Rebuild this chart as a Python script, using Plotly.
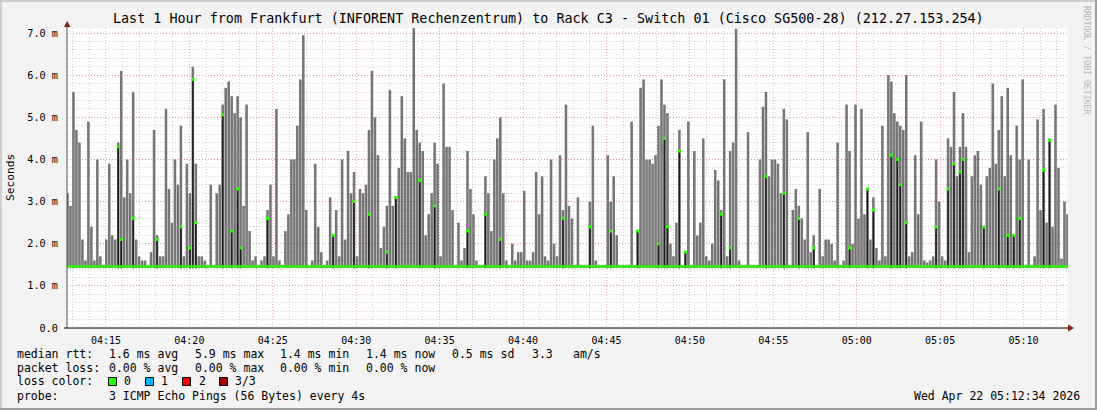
import datetime as dt
import plotly.graph_objects as go

# ---------------- data ----------------
TITLE = ("Last 1 Hour from Frankfurt (INFORENT Rechenzentrum) to Rack C3 - "
         "Switch 01 (Cisco SG500-28) (212.27.153.254)")
START = dt.datetime(2026, 4, 22, 4, 12, 40)
END = dt.datetime(2026, 4, 22, 5, 12, 40)
SLOT_SECONDS = 10.735          # spacing of the smoke samples
FIRST_SLOT_SECONDS = 1.77      # centre of the first sample after START
MIN_RTT_MS = 1.42              # bottom of the smoke
MEDIAN_BASE_MS = 1.46          # typical median rtt

# max rtt per sample (ms), left to right
max_ms_part1 = [3.2, 2.9, 5.6, 4.7, 4.4, 2.1, 1.6, 4.9, 2.4, 1.6,
                4.0, 1.7, 1.5, 2.1, 3.9, 2.2, 2.1, 4.4, 6.1, 3.1,
                4.0, 3.2, 5.6, 2.1, 1.7, 1.6, 1.6, 1.5, 1.8, 4.7,
                2.2, 1.7, 1.7, 5.2, 3.3, 2.5, 4.0, 3.4, 4.8, 1.7,
                3.9, 3.2, 6.2, 3.9, 1.7, 1.7, 1.6, 1.5, 3.4, 1.5,
                3.2, 3.4, 5.3, 5.7, 5.85, 5.5, 5.1, 5.5, 5.0, 2.9,
                5.3, 2.3, 1.6, 1.7, 1.5, 1.6, 1.7]
max_ms_part2 = [2.8, 3.4, 1.7, 5.2, 1.6, 1.5, 2.3, 2.7, 4.0, 4.0,
                4.8, 5.9, 6.95, 2.8, 1.5, 1.6, 3.9, 2.4, 1.8, 1.5,
                1.6, 3.1, 2.2, 2.8, 1.7, 4.0, 2.1, 4.2, 3.2, 3.7,
                1.7, 3.3, 3.2, 3.4, 4.7, 6.1, 5.0, 4.1, 1.9, 2.4,
                2.9, 5.65, 2.9, 3.1, 3.8, 5.5, 4.5, 3.7, 3.7, 7.15,
                4.7, 4.4, 4.2, 2.2, 2.7, 3.2, 4.4, 3.9, 1.7, 5.8,
                4.3, 4.3, 2.8, 1.5, 2.5, 1.6, 1.9]
max_ms_part3 = [4.2, 3.3, 2.7, 1.6, 1.5, 1.5, 3.6, 3.2, 2.3, 4.0,
                4.5, 5.0, 3.2, 1.6, 1.5, 2.0, 1.6, 1.8, 1.8, 3.25,
                1.6, 1.6, 1.8, 3.7, 2.7, 3.6, 1.7, 1.6, 4.0, 2.0,
                1.7, 4.1, 2.8, 5.3, 2.9, 2.6, 1.5, 3.1, 1.5, 1.5,
                1.5, 3.0, 4.8, 1.6, 1.5, 1.5, 1.5, 4.1, 3.0, 3.6,
                2.2, 1.5, 1.5, 1.5, 1.5, 4.9, 1.5, 2.3, 5.7, 5.9,
                4.0, 4.0, 3.9, 4.1, 4.8, 5.9, 5.3]
max_ms_part4 = [5.1, 2.0, 1.7, 2.5, 4.7, 1.5, 1.8, 4.9, 1.5, 4.2,
                2.2, 2.5, 4.5, 1.7, 1.6, 2.0, 3.75, 3.5, 2.8, 5.9,
                1.7, 4.2, 4.4, 7.1, 1.6, 1.5, 1.5, 4.65, 1.5, 1.5,
                1.5, 4.0, 5.25, 5.6, 3.6, 4.0, 4.0, 3.9, 3.2, 5.2,
                4.95, 1.5, 2.8, 3.3, 2.9, 2.6, 2.1, 4.65, 1.8, 2.2,
                1.5, 3.3, 1.7, 2.1, 2.1, 2.0, 1.6, 4.4, 1.5, 1.6,
                5.3, 4.2, 2.0, 5.3, 2.6, 5.2, 2.7]
max_ms_part5 = [3.3, 2.1, 3.1, 1.9, 1.6, 4.8, 1.7, 6.0, 5.85, 5.1,
                4.9, 4.8, 4.7, 6.0, 1.7, 1.8, 4.1, 2.7, 4.9, 1.6,
                1.55, 1.6, 1.7, 4.0, 3.0, 1.7, 1.6, 4.5, 4.3, 5.6,
                3.6, 4.3, 5.1, 4.3, 1.8, 3.6, 4.1, 4.2, 3.4, 2.4,
                3.6, 3.8, 5.8, 3.9, 4.7, 5.5, 3.6, 5.7, 4.1, 2.2,
                4.8, 4.0, 5.9, 1.5, 4.0, 1.5, 1.7, 4.95, 2.8, 5.2,
                2.5, 4.5, 2.4, 5.3, 3.8, 1.65, 3.0, 2.7]

# samples whose median rtt is clearly above the baseline
median_slot = [17, 18, 22, 30, 38, 41, 42, 43, 52, 55, 57, 58,
               67, 89, 96, 101, 107, 110, 118, 123,
               134, 140, 145, 166, 175, 182, 191, 198, 200,
               201, 205, 207, 219, 222, 234, 240, 245, 250, 262,
               268, 270, 276, 278, 279, 281, 291, 295, 297, 299, 300,
               307, 312, 315, 317, 319, 327, 329]
median_ms = [4.3, 2.1, 2.6, 2.1, 2.4, 1.9, 5.9, 2.5, 5.06, 2.3, 3.3, 1.9,
             2.6, 2.2, 3.0, 2.7, 1.8, 3.1, 3.5, 2.9,
             2.3, 2.7, 2.1, 2.6, 2.4, 2.3, 2.3, 2.0, 4.5,
             2.4, 4.2, 1.8, 2.7, 1.9, 3.6, 3.2, 2.6, 1.9, 1.9,
             3.3, 2.8, 4.1, 4.0, 3.4, 2.5, 2.4, 3.3, 3.9, 3.7, 4.0,
             2.4, 3.3, 2.2, 2.2, 2.6, 3.75, 4.45]

y_tick_values = [0, 1, 2, 3, 4, 5, 6, 7]
y_tick_labels = ["0.0", "1.0 m", "2.0 m", "3.0 m", "4.0 m", "5.0 m", "6.0 m", "7.0 m"]

legend_rtt = [("median rtt:", 16), ("1.6 ms avg", 108), ("5.9 ms max", 193.5),
              ("1.4 ms min", 278.5), ("1.4 ms now", 364.5), ("0.5 ms sd", 450.5),
              ("3.3", 530.5), ("am/s", 571.5)]
legend_loss = [("packet loss:", 16), ("0.00 % avg", 108), ("0.00 % max", 193.5),
               ("0.00 % min", 278.5), ("0.00 % now", 364.5)]
loss_labels = ["0", "1", "2", "3/3"]
loss_label_x = [122.5, 160, 197.5, 234]
loss_box_x = [108.5, 145.5, 182.5, 219.5]
loss_colors = ["#26ff00", "#00b8ff", "#ff0000", "#a10000"]
PROBE_TEXT = "3 ICMP Echo Pings (56 Bytes) every 4s"
STAMP_TEXT = "Wed Apr 22 05:12:34 2026"

# ---------------- geometry helpers ----------------
W, H = 1097, 410
L, R, T, B = 67, 29, 28, 82
PW, PH = W - L - R, H - T - B
FONT = "DejaVu Sans Mono"
LEG = 11.5


def px(x):
    return (x - L) / PW


def py(y):
    return (H - B - y) / PH


max_ms = max_ms_part1 + max_ms_part2 + max_ms_part3 + max_ms_part4 + max_ms_part5
slot_times = [START + dt.timedelta(seconds=FIRST_SLOT_SECONDS + SLOT_SECONDS * i)
              for i in range(len(max_ms))]

fig = go.Figure()
fig.add_trace(go.Bar(
    x=slot_times, y=[m - MIN_RTT_MS for m in max_ms], base=MIN_RTT_MS,
    width=SLOT_SECONDS * 860, marker=dict(color="#767676", line=dict(width=0)),
    hoverinfo="skip"))
fig.add_trace(go.Bar(
    x=[slot_times[i] for i in median_slot], y=[m - MIN_RTT_MS for m in median_ms],
    base=MIN_RTT_MS, width=5500, marker=dict(color="#1c1c1c", line=dict(width=0)),
    hoverinfo="skip"))
fig.add_trace(go.Scatter(
    x=[START, END], y=[MEDIAN_BASE_MS, MEDIAN_BASE_MS], mode="lines",
    line=dict(color="#26ff00", width=2.4), hoverinfo="skip"))
fig.add_trace(go.Scatter(
    x=[slot_times[i] for i in median_slot], y=median_ms, mode="markers",
    marker=dict(symbol="square", size=3, color="#26ff00", line=dict(width=0)),
    hoverinfo="skip"))

grid_major = "rgba(225,80,80,0.45)"
grid_minor = "rgba(150,150,150,0.45)"

fig.update_layout(
    width=W, height=H, margin=dict(l=L, r=R, t=T, b=B),
    paper_bgcolor="#f3f3f3", plot_bgcolor="#ffffff",
    barmode="overlay", showlegend=False,
    font=dict(family=FONT, size=10, color="#000000"),
    xaxis=dict(
        type="date", range=[START, END], tickformat="%H:%M",
        tick0="2026-04-22 04:15:00", dtick=300000,
        showgrid=True, gridcolor=grid_major, griddash="1px,2px", gridwidth=1,
        minor=dict(tick0="2026-04-22 04:15:00", dtick=60000, showgrid=True,
                   gridcolor=grid_minor, griddash="1px,2px", gridwidth=1),
        showline=False, zeroline=False, ticks="outside", ticklen=3,
        tickcolor="rgba(0,0,0,0)", tickfont=dict(family=FONT, size=10),
        fixedrange=True),
    yaxis=dict(
        range=[0, PH / 42.14], tickvals=y_tick_values, ticktext=y_tick_labels,
        showgrid=True, gridcolor=grid_major, griddash="1px,2px", gridwidth=1,
        minor=dict(dtick=0.2, tick0=0, showgrid=True, gridcolor=grid_minor,
                   griddash="1px,2px", gridwidth=1),
        showline=False, zeroline=False, ticks="outside", ticklen=6,
        tickcolor="rgba(0,0,0,0)", tickfont=dict(family=FONT, size=10.2),
        fixedrange=True),
)

shapes = []
# axes with arrows
shapes.append(dict(type="line", xref="paper", yref="paper", x0=px(67), x1=px(67),
                   y0=0, y1=py(24), line=dict(color="#505050", width=1)))
shapes.append(dict(type="line", xref="paper", yref="paper", x0=px(64), x1=px(1070),
                   y0=0, y1=0, line=dict(color="#000000", width=1)))
shapes.append(dict(type="path", xref="paper", yref="paper",
                   path=f"M {px(64)} {py(27)} L {px(70.5)} {py(27)} L {px(67.2)} {py(21)} Z",
                   fillcolor="#7f1f1f", line=dict(width=0)))
shapes.append(dict(type="path", xref="paper", yref="paper",
                   path=f"M {px(1068)} {py(324.5)} L {px(1068)} {py(331.5)} L {px(1074)} {py(328)} Z",
                   fillcolor="#7f1f1f", line=dict(width=0)))
# canvas frame
shapes.append(dict(type="line", xref="paper", yref="paper", x0=px(1), x1=px(1),
                   y0=py(0), y1=py(410), line=dict(color="#cfcfcf", width=2)))
shapes.append(dict(type="line", xref="paper", yref="paper", x0=px(0), x1=px(1097),
                   y0=py(1), y1=py(1), line=dict(color="#cfcfcf", width=2)))
shapes.append(dict(type="line", xref="paper", yref="paper", x0=px(1096), x1=px(1096),
                   y0=py(0), y1=py(410), line=dict(color="#9e9e9e", width=2)))
shapes.append(dict(type="line", xref="paper", yref="paper", x0=px(0), x1=px(1097),
                   y0=py(409), y1=py(409), line=dict(color="#9e9e9e", width=2)))
# loss colour boxes
for bx, col in zip(loss_box_x, loss_colors):
    shapes.append(dict(type="rect", xref="paper", yref="paper",
                       x0=px(bx), x1=px(bx + 8), y0=py(385.5), y1=py(377.5),
                       fillcolor=col, line=dict(color="#000000", width=1)))
fig.update_layout(shapes=shapes)

ann = []


def text(s, x, y, size=LEG, anchor="left", color="#000000", angle=0):
    ann.append(dict(text=s, xref="paper", yref="paper", x=px(x), y=py(y),
                    xanchor=anchor, yanchor="middle", showarrow=False,
                    textangle=angle, borderpad=0,
                    font=dict(family=FONT, size=size, color=color)))


text(TITLE, 548, 19, size=13.4, anchor="center")
text("Seconds", 10, 178, size=11.2, anchor="center", angle=-90)
text("RRDTOOL / TOBI OETIKER", 1087, 60, size=8.2, anchor="center",
     color="#b4b4b4", angle=90)
for s, x in legend_rtt:
    text(s, x, 353.5)
for s, x in legend_loss:
    text(s, x, 367.5)
text("loss color:", 16, 381.5)
for s, x in zip(loss_labels, loss_label_x):
    text(s, x, 381.5)
text("probe:", 16, 396)
text(PROBE_TEXT, 108, 396)
text(STAMP_TEXT, 1081, 396, anchor="right")
fig.update_layout(annotations=ann)

fig.write_html("out.html", config={"displayModeBar": False, "staticPlot": True},
               post_script="document.body.style.margin='0px';document.body.style.overflow='hidden';")
